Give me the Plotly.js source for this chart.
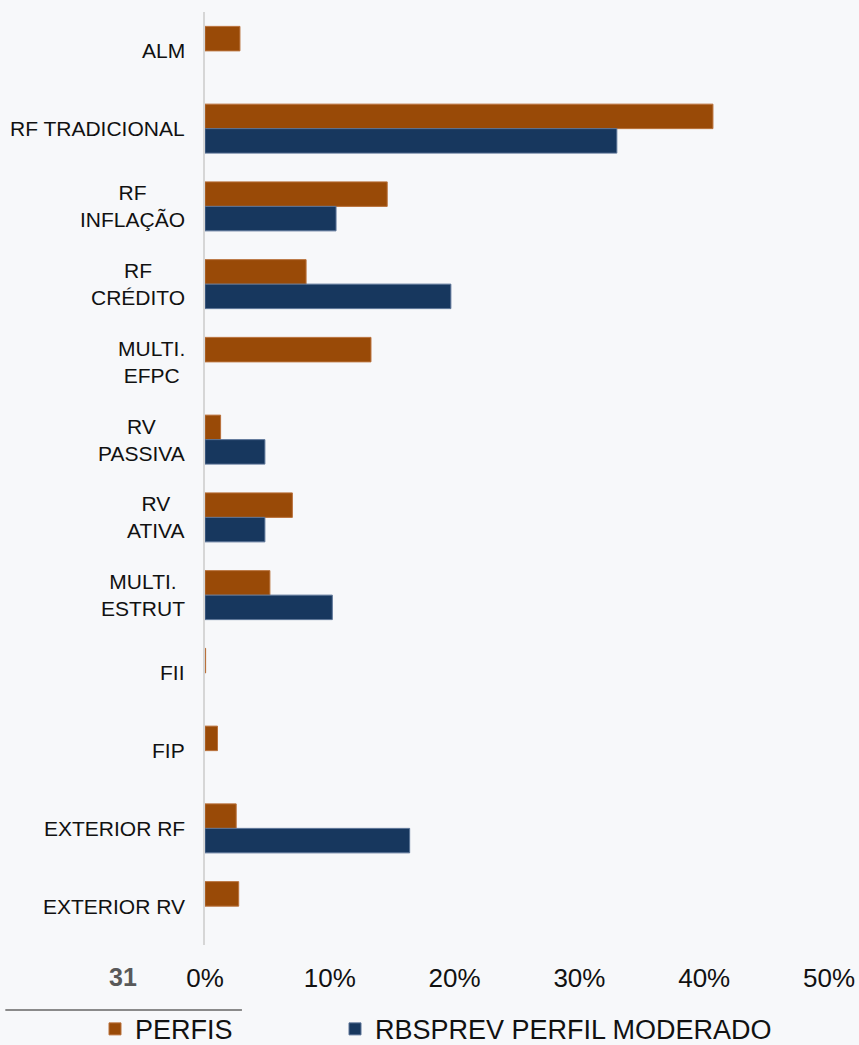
<!DOCTYPE html>
<html>
<head>
<meta charset="utf-8">
<script src="https://cdn.plot.ly/plotly-3.0.1.min.js"></script>
<style>html,body{margin:0;padding:0;background:#f7f8fa;}</style>
</head>
<body>
<div id="chart" style="width:859px;height:1045px;"></div>
<script>
const categories = ["ALM", "RF TRADICIONAL", "RF<br>INFLAÇÃO", "RF<br>CRÉDITO", "MULTI.<br>EFPC",
  "RV<br>PASSIVA", "RV<br>ATIVA", "MULTI.<br>ESTRUT", "FII", "FIP", "EXTERIOR RF", "EXTERIOR RV"];
const perfis = [2.8, 40.7, 14.6, 8.1, 13.3, 1.25, 7.0, 5.2, 0.05, 1.0, 2.5, 2.7];
const moderado = [null, 33.0, 10.5, 19.7, null, 4.8, 4.8, 10.2, null, null, 16.4, null];
const xTickVals = [0, 10, 20, 30, 40, 50];
const xTickText = ["0%", "10%", "20%", "30%", "40%", "50%"];
const seriesNames = ["PERFIS", "RBSPREV PERFIL MODERADO"];
const pageNumber = "31";

const font = "Liberation Sans, Arial, sans-serif";

const traces = [
  {type: "bar", orientation: "h", name: seriesNames[0], y: categories, x: perfis,
   marker: {color: "#994a07", line: {color: "#b9703a", width: 1}}, hoverinfo: "x+y", legend: "legend"},
  {type: "bar", orientation: "h", name: seriesNames[1], y: categories, x: moderado,
   marker: {color: "#17375e", line: {color: "#5a7396", width: 1}}, hoverinfo: "x+y", legend: "legend2"}
];

const legendBase = {orientation: "h", xref: "container", yref: "container", y: 0.015,
  xanchor: "left", yanchor: "middle", font: {size: 27, family: font, color: "#111"},
  bgcolor: "rgba(0,0,0,0)", itemwidth: 30};

const catAnnotations = categories.map(c => ({
  text: c, xref: "paper", yref: "y", x: 0, y: c, xanchor: "right", yanchor: "middle",
  xshift: -18, align: "center", showarrow: false,
  font: {size: 21, family: font, color: "#111"}
}));

const layout = {
  width: 859, height: 1045,
  paper_bgcolor: "#f7f8fa", plot_bgcolor: "rgba(0,0,0,0)",
  margin: {l: 205, r: 30, t: 12, b: 100},
  barmode: "group", bargap: 0.37, bargroupgap: 0,
  font: {family: font, color: "#000", size: 20},
  xaxis: {range: [0, 50], tickvals: xTickVals, ticktext: xTickText, showgrid: false,
    zeroline: false, showline: false, ticks: "outside", ticklen: 10, tickcolor: "rgba(0,0,0,0)",
    tickfont: {size: 26, family: font, color: "#111"}, fixedrange: true},
  yaxis: {autorange: "reversed", type: "category", showgrid: false, zeroline: false,
    showline: true, linecolor: "#d6d6d6", linewidth: 2, ticks: "", showticklabels: false},
  showlegend: true,
  legend: Object.assign({}, legendBase, {x: (95 / 859)}),
  legend2: Object.assign({}, legendBase, {x: (335 / 859)}),
  annotations: catAnnotations.concat([{text: "<b>" + pageNumber + "</b>", xref: "paper", yref: "paper",
    x: (123 - 205) / 625, y: (945 - 977) / 933, showarrow: false,
    font: {size: 25, family: font, color: "#595959"}, xanchor: "center", yanchor: "middle"}]),
  shapes: [{type: "line", xref: "paper", yref: "paper",
    x0: (5 - 205) / 625, x1: (242 - 205) / 625, y0: (945 - 1010) / 933, y1: (945 - 1010) / 933,
    line: {color: "#8a8a8a", width: 2}}]
};

Plotly.newPlot("chart", traces, layout, {displayModeBar: false});
</script>
</body>
</html>
